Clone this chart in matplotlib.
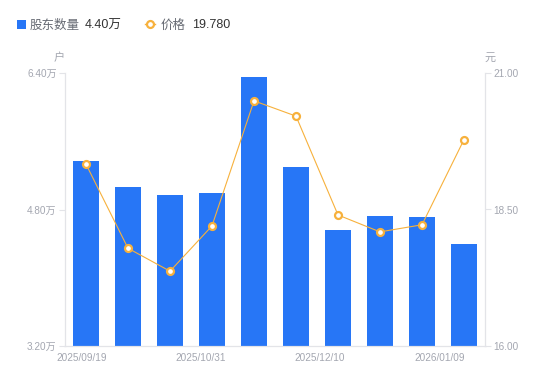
import matplotlib
matplotlib.use("Agg")
import matplotlib.pyplot as plt
from matplotlib.patches import Rectangle
from matplotlib.lines import Line2D

plt.rcParams['font.family'] = ['Liberation Sans', 'Noto Sans CJK SC', 'DejaVu Sans']

holders = [5.37, 5.06, 4.97, 4.99, 6.35, 5.30, 4.56, 4.72, 4.71, 4.40]   # 万户
price = [19.33, 17.79, 17.37, 18.20, 20.49, 20.21, 18.40, 18.09, 18.22, 19.78]
left_ticks = [3.20, 4.80, 6.40]
right_ticks = [16.00, 18.50, 21.00]
date_labels = ["2025/09/19", "2025/10/31", "2025/12/10", "2026/01/09"]
date_pos = [-0.095, 2.738, 5.571, 8.429]

BLUE = "#2776f6"
ORANGE = "#f7b13c"
GRAY = "#a3a6b0"
AXIS = "#e3e4e8"

W, H = 550, 381
fig = plt.figure(figsize=(W / 100, H / 100), dpi=100)
ax = fig.add_axes([65 / W, 1 - 346 / H, 420 / W, 273 / H])
ax2 = ax.twinx()

x = list(range(len(holders)))
ax.bar(x, holders, width=0.6, color=BLUE, zorder=2)
ax.set_xlim(-0.5, len(holders) - 0.5)
ax.set_ylim(left_ticks[0], left_ticks[-1])
ax.set_yticks(left_ticks)
ax.set_yticklabels([f"{v:.2f}万" for v in left_ticks])
ax.set_xticks(date_pos)
ax.set_xticklabels(date_labels)
ax.tick_params(axis='x', length=0, pad=5, labelsize=7.2, labelcolor=GRAY)
ax.tick_params(axis='y', length=4, width=0.8, color=AXIS, pad=2, labelsize=7.2, labelcolor=GRAY)

ax2.plot(x, price, color=ORANGE, lw=0.8, marker='o', markersize=5,
         markerfacecolor='white', markeredgecolor=ORANGE, markeredgewidth=1.6, zorder=3)
ax2.set_ylim(right_ticks[0], right_ticks[-1])
ax2.set_yticks(right_ticks)
ax2.set_yticklabels([f"{v:.2f}" for v in right_ticks])
ax2.tick_params(axis='y', length=4, width=0.8, color=AXIS, pad=2, labelsize=7.2, labelcolor=GRAY)

for a in (ax, ax2):
    a.spines['top'].set_visible(False)
    for s in ('left', 'right', 'bottom'):
        a.spines[s].set_color(AXIS)
        a.spines[s].set_linewidth(0.8)

fig.text(59 / W, 1 - 58 / H, "户", fontsize=8, color=GRAY, ha='center', va='center')
fig.text(490 / W, 1 - 58 / H, "元", fontsize=8, color=GRAY, ha='center', va='center')

# Legend
ly = 1 - 25.5 / H
my = 1 - 24 / H
fig.patches.append(Rectangle((17 / W, 1 - 29 / H), 9 / W, 9 / H, transform=fig.transFigure,
                             facecolor=BLUE, edgecolor='none'))
fig.text(30 / W, ly, "股东数量", fontsize=9, color="#666a73", ha='left', va='center')
fig.text(85 / W, ly, f"{holders[-1]:.2f}万", fontsize=9, color="#333333", ha='left', va='center')
fig.lines.append(Line2D([145 / W, 155 / W], [my, my], transform=fig.transFigure, color=ORANGE, lw=1))
fig.lines.append(Line2D([150 / W], [my], transform=fig.transFigure, marker='o', markersize=5,
                        markerfacecolor='white', markeredgecolor=ORANGE, markeredgewidth=1.6))
fig.text(161 / W, ly, "价格", fontsize=9, color="#666a73", ha='left', va='center')
fig.text(192 / W, ly, f"{price[-1]:.3f}", fontsize=9, color="#333333", ha='left', va='center')

fig.savefig("out.png", dpi=100)
